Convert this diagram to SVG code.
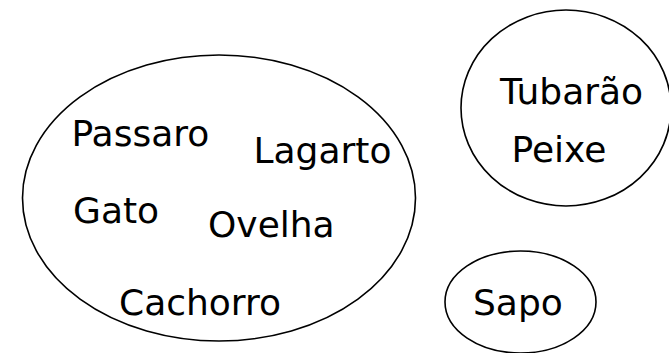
<svg xmlns="http://www.w3.org/2000/svg" width="669" height="353" viewBox="0 0 669 353">
<style>
.set{fill:none;stroke:#000;stroke-width:1.6}
.lbl{font-family:"DejaVu Sans",Verdana,sans-serif;font-size:36px;fill:#000}
</style>
<rect width="669" height="353" fill="#fff"/>
<g id="set-terrestres">
<ellipse class="set" cx="219" cy="198" rx="196.5" ry="143"/>
<text class="lbl" x="71.5" y="146">Passaro</text>
<text class="lbl" x="253.5" y="163">Lagarto</text>
<text class="lbl" x="73" y="223">Gato</text>
<text class="lbl" x="208" y="237">Ovelha</text>
<text class="lbl" x="119" y="315">Cachorro</text>
</g>
<g id="set-aquaticos">
<ellipse class="set" cx="566" cy="108" rx="105" ry="98"/>
<text class="lbl" x="500" y="104">Tubarão</text>
<text class="lbl" x="511.5" y="162">Peixe</text>
</g>
<g id="set-sapo">
<ellipse class="set" cx="520.5" cy="302" rx="75.5" ry="51"/>
<text class="lbl" x="473" y="315">Sapo</text>
</g>
<g id="connectors"/>
</svg>
